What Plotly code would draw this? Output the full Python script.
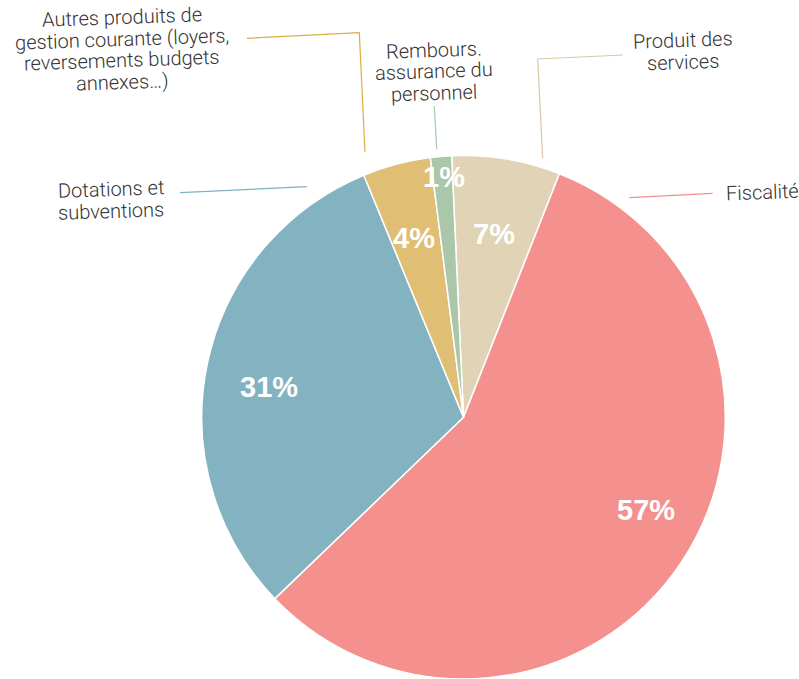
import math
import plotly.graph_objects as go

# data (clockwise from the top)
labels = ["Produit des services", "Fiscalité", "Dotations et subventions",
          "Autres produits de gestion courante (loyers, reversements budgets annexes…)",
          "Rembours. assurance du personnel"]
values = [6.7, 56.9, 31.0, 4.2, 1.3]
colors = ["#E1D3B5", "#F4918F", "#83B2C0", "#E0BE74", "#AAC7A9"]

W, H = 799, 679
CX, CY, R = 463.5, 417.5, 262
ROT = -2.6

# inner label placement: fraction of radius, angle tweak (deg)
pct_rad = [0.71, 0.78, 0.75, 0.71, 0.92]
pct_dang = [0, -6.8, -2.8, -0.6, 0.3]

def px(x):
    return x / W

def py(y):
    return 1 - y / H

fig = go.Figure(go.Pie(
    labels=labels, values=values, sort=False, direction="clockwise",
    rotation=ROT, textinfo="none", hoverinfo="label+percent",
    marker=dict(colors=colors, line=dict(color="white", width=1.5)),
    domain=dict(x=[px(CX - R), px(CX + R)], y=[0, py(CY - R)]),
    showlegend=False,
))

annotations = []

# percent labels, placed from the slice angles
total = sum(values)
start = ROT
for v, fr, da in zip(values, pct_rad, pct_dang):
    span = v / total * 360
    mid = math.radians(start + span / 2 + da)
    start += span
    x = CX + fr * R * math.sin(mid)
    y = CY - fr * R * math.cos(mid)
    annotations.append(dict(
        x=px(x), y=py(y), xref="paper", yref="paper", showarrow=False,
        text=f"{round(v / total * 100)}%",
        font=dict(family="Liberation Sans, Arial", size=29, color="white", weight="bold"),
        xanchor="center", yanchor="middle"))

# outside labels (one annotation per line)
label_font = dict(family="Roboto, Liberation Sans", size=20, color="#333333", weight=300)
outside = [
    (122, 17, ["Autres produits de", "gestion courante (loyers,", "reversements budgets", "annexes…)"], "center"),
    (434, 50, ["Rembours.", "assurance du", "personnel"], "center"),
    (683, 40, ["Produit des", "services"], "center"),
    (724, 192, ["Fiscalité"], "left"),
    (111, 189, ["Dotations et", "subventions"], "center"),
]
for x0, y0, lines, anchor in outside:
    for k, line in enumerate(lines):
        annotations.append(dict(
            x=px(x0), y=py(y0 + k * 21.5), xref="paper", yref="paper", showarrow=False,
            text=line, font=label_font, xanchor=anchor, yanchor="middle", textangle=-2))

# leader lines
leaders = [
    ([(247, 38.3), (359.3, 32.7), (365, 152.3)], "#D9AE45"),
    ([(180, 192.7), (306.7, 186.7)], "#7FB1C3"),
    ([(434.3, 106), (436.7, 149.3)], "#A8C9A8"),
    ([(622.7, 55), (537.7, 59), (542.7, 158.3)], "#D8C8A6"),
    ([(629.3, 197.7), (712.7, 193.3)], "#F28F8F"),
]
shapes = []
for pts, col in leaders:
    path = "M " + " L ".join(f"{px(a):.5f},{py(b):.5f}" for a, b in pts)
    shapes.append(dict(type="path", path=path, xref="paper", yref="paper",
                       line=dict(color=col, width=1.2)))

fig.update_layout(
    width=W, height=H,
    margin=dict(l=0, r=0, t=0, b=0),
    paper_bgcolor="white", plot_bgcolor="white",
    annotations=annotations, shapes=shapes,
)

# drop the page's default body margin so the figure fills the window
fig.write_html("out.html", config={"displayModeBar": False},
               post_script="document.body.style.margin='0';")
